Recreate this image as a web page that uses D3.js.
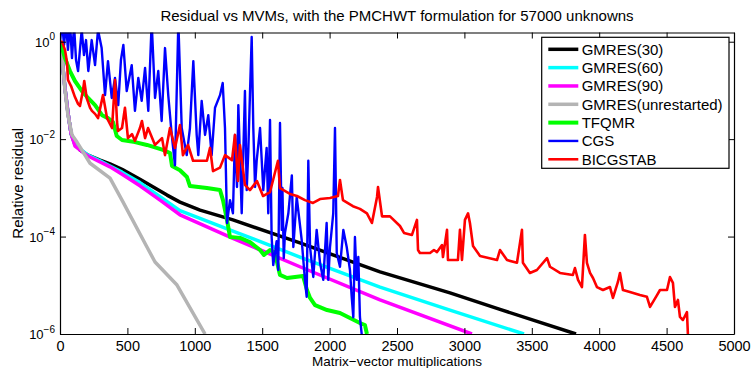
<!DOCTYPE html>
<html><head><meta charset="utf-8">
<script src="https://cdn.jsdelivr.net/npm/d3@7"></script>
<style>
html,body{margin:0;padding:0;background:#fff;}
svg{display:block;font-family:"Liberation Sans",Arial,sans-serif;}
</style></head>
<body><svg id="chart" width="751" height="368"></svg>
<script>
// ---- data: [matrix-vector multiplications, relative residual] ----
const gmres30 = [[0,1],[15,0.46],[37,0.11],[59,0.035],[82,0.013],[111,0.0079],[148,0.0060],[208,0.0047],[297,0.0037],[371,0.0031],[460,0.0024],[593,0.0015],[794,0.00071],[890,0.00051],[1039,0.00035],[1283,0.00022],[1780,7.4e-5],[2374,1.88e-5],[2893,7.0e-6],[3264,3.2e-6],[3828,1e-6]];
const gmres60 = [[0,1],[15,0.46],[37,0.11],[59,0.035],[82,0.013],[111,0.0076],[208,0.0047],[297,0.0036],[371,0.0028],[460,0.0021],[593,0.00128],[742,0.00066],[890,0.00034],[1283,0.00013],[1780,3.8e-5],[2374,9.2e-6],[2893,3.1e-6],[3442,1e-6]];
const gmres90 = [[0,1],[15,0.46],[37,0.11],[59,0.035],[82,0.013],[111,0.0072],[208,0.0045],[297,0.0034],[371,0.0027],[460,0.0019],[593,0.0011],[742,0.00056],[890,0.00028],[1283,9.2e-5],[1780,2.4e-5],[2374,5.0e-6],[3056,1e-6]];
const gmresFull = [[0,1],[15,0.46],[37,0.102],[59,0.031],[89,0.0122],[126,0.0087],[223,0.0032],[371,0.00159],[460,0.00056],[645,6.1e-5],[705,3.0e-5],[868,1.01e-5],[1076,1e-6]];
const tfqmr = [[0,1],[15,0.74],[37,0.46],[74,0.25],[111,0.156],[163,0.097],[208,0.070],[260,0.050],[312,0.031],[356,0.027],[393,0.0225],[421,0.0116],[460,0.0096],[556,0.0087],[645,0.0076],[764,0.0060],[816,0.0052],[831,0.0028],[890,0.0023],[942,0.00167],[964,0.00109],[1090,0.00099],[1187,0.00090],[1209,0.00056],[1239,0.00022],[1261,9.8e-5],[1335,9.4e-5],[1409,7.7e-5],[1484,5.3e-5],[1513,4.2e-5],[1558,5.3e-5],[1587,4.8e-5],[1610,3.0e-5],[1632,1.63e-5],[1684,1.41e-5],[1803,1.55e-5],[1832,8.0e-6],[1855,5.5e-6],[1892,3.9e-6],[1981,3.1e-6],[2077,2.7e-6],[2151,2.13e-6],[2225,1.68e-6],[2262,1.53e-6],[2277,1e-6]];
const cgs = [[0,1.0],[15,2.5],[30,0.86],[45,2.5],[59,0.68],[74,2.5],[89,0.46],[104,2.2],[119,0.42],[134,0.25],[161,1.74],[178,0.53],[193,1.08],[210,0.25],[235,1.08],[260,0.33],[282,1.74],[309,0.74],[334,0.080],[356,0.40],[384,0.070],[408,0.18],[432,0.050],[452,0.42],[470,0.86],[495,0.097],[532,0.33],[556,0.038],[581,0.18],[606,0.061],[631,0.29],[655,0.038],[680,2.5],[705,0.070],[729,0.25],[754,0.0236],[779,0.74],[803,0.080],[829,0.0122],[853,0.0029],[878,2.5],[903,0.0169],[940,0.0047],[964,0.0169],[989,0.40],[1014,0.0122],[1026,0.0047],[1051,0.061],[1076,0.0122],[1100,0.031],[1125,0.0047],[1150,0.044],[1187,0.080],[1207,0.142],[1224,0.0169],[1239,0.00019],[1261,0.00056],[1283,0.00030],[1298,0.0122],[1313,0.00104],[1323,0.050],[1348,0.00030],[1372,0.097],[1385,0.00090],[1397,0.0057],[1409,0.080],[1422,1.25],[1434,0.0169],[1447,0.00104],[1459,0.0036],[1484,0.0169],[1508,0.00090],[1533,0.0066],[1545,0.00030],[1558,0.0247],[1570,9.8e-5],[1582,2.6e-5],[1607,8.0e-5],[1619,2.06e-5],[1632,0.0214],[1645,0.000137],[1650,0.00099],[1660,3.6e-5],[1669,0.00012],[1694,0.00030],[1720,0.0018],[1731,6.1e-5],[1756,0.00065],[1793,8.5e-5],[1817,1.29e-5],[1830,5.8e-6],[1842,0.0036],[1855,6.1e-5],[1879,1.48e-5],[1904,0.000137],[1929,2.9e-5],[1953,1.29e-5],[1978,0.00019],[1990,1.29e-5],[2003,6.1e-5],[2027,0.00030],[2040,0.0169],[2053,4.6e-5],[2077,2.4e-5],[2102,0.000137],[2127,6.1e-5],[2151,2.06e-5],[2164,5.8e-6],[2176,2.2e-6],[2188,9.8e-5],[2201,1.29e-5],[2213,3.8e-5],[2225,2.24e-6],[2238,1e-6]];
const bicgstab = [[0,1.0],[15,0.99],[37,0.68],[52,0.38],[59,0.164],[82,0.123],[111,0.073],[134,0.053],[148,0.048],[171,0.102],[180,0.156],[198,0.070],[223,0.044],[237,0.038],[260,0.033],[282,0.027],[319,0.080],[349,0.027],[386,0.0169],[408,0.164],[423,0.0225],[430,0.0147],[460,0.0169],[482,0.044],[504,0.0105],[534,0.0127],[556,0.0092],[593,0.0169],[608,0.0236],[631,0.0105],[653,0.0169],[705,0.0076],[757,0.0105],[779,0.0047],[816,0.0169],[853,0.0066],[890,0.0195],[912,0.0047],[950,0.0076],[987,0.0036],[1090,0.0036],[1113,0.0066],[1135,0.0022],[1187,0.0026],[1224,0.0047],[1276,0.0037],[1298,0.0122],[1320,0.00138],[1335,0.0076],[1372,0.00115],[1409,0.00090],[1461,0.00138],[1506,0.00068],[1558,0.00082],[1617,0.0036],[1632,0.00099],[1706,0.00075],[1758,0.00068],[1817,0.00056],[1877,0.00049],[1929,0.00059],[2003,0.00062],[2062,0.00068],[2077,0.00145],[2099,0.00056],[2173,0.00042],[2225,0.00037],[2277,0.00030],[2314,0.00019],[2352,0.00065],[2359,0.00104],[2389,0.00026],[2448,0.00026],[2522,0.000165],[2552,0.000119],[2611,0.000108],[2648,0.00022],[2656,5.3e-5],[2670,4.6e-5],[2745,4.6e-5],[2774,5.3e-5],[2797,4.8e-5],[2834,6.7e-5],[2841,3.8e-5],[2871,0.000137],[2878,3.3e-5],[2952,3.3e-5],[2967,0.000137],[2982,3.3e-5],[3004,0.00022],[3027,0.00030],[3041,0.00019],[3064,6.4e-5],[3116,4.0e-5],[3242,3.3e-5],[3264,5.3e-5],[3316,3.3e-5],[3390,2.9e-5],[3427,0.000137],[3434,2.9e-5],[3486,1.79e-5],[3538,2.06e-5],[3613,3.6e-5],[3635,2.4e-5],[3709,1.79e-5],[3805,1.63e-5],[3820,2.26e-5],[3843,1.29e-5],[3872,9.2e-6],[3894,0.000108],[3909,2.9e-5],[3932,1.79e-5],[3954,1.41e-5],[3983,9.2e-6],[4028,8.0e-6],[4080,9.2e-6],[4102,5.5e-6],[4139,1.17e-5],[4154,1.79e-5],[4176,8.0e-6],[4228,7.3e-6],[4302,6.3e-6],[4354,5.8e-6],[4377,3.6e-6],[4429,6.3e-6],[4451,8.0e-6],[4503,8.0e-6],[4525,1.48e-5],[4547,1.12e-5],[4562,3.6e-6],[4584,5.0e-6],[4599,2.24e-6],[4621,1.94e-6],[4651,2.8e-6],[4658,1e-6]];

const seriesNames = ["GMRES(30)","GMRES(60)","GMRES(90)","GMRES(unrestarted)","TFQMR","CGS","BICGSTAB"];
const seriesData = [gmres30, gmres60, gmres90, gmresFull, tfqmr, cgs, bicgstab];
const seriesColors = ["#000000","#00ffff","#ff00ff","#b4b4b4","#00ff00","#0000ff","#ff0000"];
const seriesWidths = [3.5,3.5,3.5,3.5,4,2.4,2.6];
const xTicks = [0,500,1000,1500,2000,2500,3000,3500,4000,4500,5000];
const yTickExp = [0,-2,-4,-6];
const titleText = "Residual vs MVMs, with the PMCHWT formulation for 57000 unknowns";
const xLabel = "Matrix\u2212vector multiplications";
const yLabel = "Relative residual";

// ---- layout ----
const L = 60, R = 734, T = 32.5, B = 334;
const svg = d3.select("#chart");
const x = d3.scaleLinear().domain([0,5000]).range([L,R]);
const y = d3.scaleLog().domain([1e-6, 1.545]).range([B,T]);
const FONT = "Liberation Sans, Arial, sans-serif";

svg.append("rect").attr("width",751).attr("height",368).attr("fill","#fff");
svg.append("defs").append("clipPath").attr("id","clip")
  .append("rect").attr("x",L).attr("y",T).attr("width",R-L).attr("height",B-T);

const line = d3.line().x(d=>x(d[0])).y(d=>y(d[1]));
const g = svg.append("g").attr("clip-path","url(#clip)");
seriesData.forEach((s,i)=>{
  g.append("path").datum(s).attr("d",line).attr("fill","none")
   .attr("stroke",seriesColors[i]).attr("stroke-width",seriesWidths[i])
   .attr("stroke-linejoin","round").attr("stroke-linecap","butt");
});

// axes
const tk = 6;
const axB = svg.append("g").attr("transform",`translate(0,${B})`)
  .call(d3.axisBottom(x).tickValues(xTicks).tickSizeInner(-tk).tickSizeOuter(0).tickPadding(6.5).tickFormat(d3.format("d")));
const axT = svg.append("g").attr("transform",`translate(0,${T})`)
  .call(d3.axisTop(x).tickValues(xTicks).tickSizeInner(-tk).tickSizeOuter(0).tickFormat(""));
const yVals = yTickExp.map(e=>Math.pow(10,e));
const axL = svg.append("g").attr("transform",`translate(${L},0)`)
  .call(d3.axisLeft(y).tickValues(yVals).tickSizeInner(-tk).tickSizeOuter(0).tickFormat(""));
const axR = svg.append("g").attr("transform",`translate(${R},0)`)
  .call(d3.axisRight(y).tickValues(yVals).tickSizeInner(-tk).tickSizeOuter(0).tickFormat(""));
[axB,axT,axL,axR].forEach(a=>{
  a.selectAll("path.domain").attr("stroke","#000").attr("stroke-width",1.2);
  a.selectAll(".tick line").attr("stroke","#000").attr("stroke-width",1);
});
axB.selectAll(".tick text").attr("font-size",14.5).attr("fill","#000").attr("font-family",FONT);
// y tick labels with superscripts
axL.selectAll(".tick").each(function(d){
  const t = d3.select(this).append("text").attr("x",-5).attr("y",4.5)
    .attr("text-anchor","end").attr("fill","#000")
    .attr("font-family",FONT).attr("font-size",13);
  t.append("tspan").text("10");
  const e = Math.round(Math.log10(d));
  t.append("tspan").attr("dy",-6.5).attr("font-size",10).text(e<0 ? "\u2212"+(-e) : String(e));
});

// title and labels
svg.append("text").attr("x",(L+R)/2).attr("y",20.5).attr("text-anchor","middle")
  .attr("font-size",15).attr("fill","#000").text(titleText);
svg.append("text").attr("x",(L+R)/2).attr("y",365.8).attr("text-anchor","middle")
  .attr("font-size",13.5).attr("fill","#000").text(xLabel);
svg.append("text").attr("transform",`translate(22.5,${(T+B)/2}) rotate(-90)`)
  .attr("text-anchor","middle").attr("font-size",15).attr("fill","#000").text(yLabel);

// legend
const lg = svg.append("g");
const lx = 541.7, ly = 37.3, lw = 187.3, lh = 131;
lg.append("rect").attr("x",lx).attr("y",ly).attr("width",lw).attr("height",lh)
  .attr("fill","#fff").attr("stroke","#000").attr("stroke-width",1.2);
seriesNames.forEach((n,i)=>{
  const yy = 49.3 + i*18.33;
  lg.append("line").attr("x1",548.3).attr("x2",578.3).attr("y1",yy).attr("y2",yy)
    .attr("stroke",seriesColors[i]).attr("stroke-width",seriesWidths[i]);
  lg.append("text").attr("x",581.7).attr("y",yy+5.5).attr("font-size",15)
    .attr("fill","#000").text(n);
});
</script></body></html>
